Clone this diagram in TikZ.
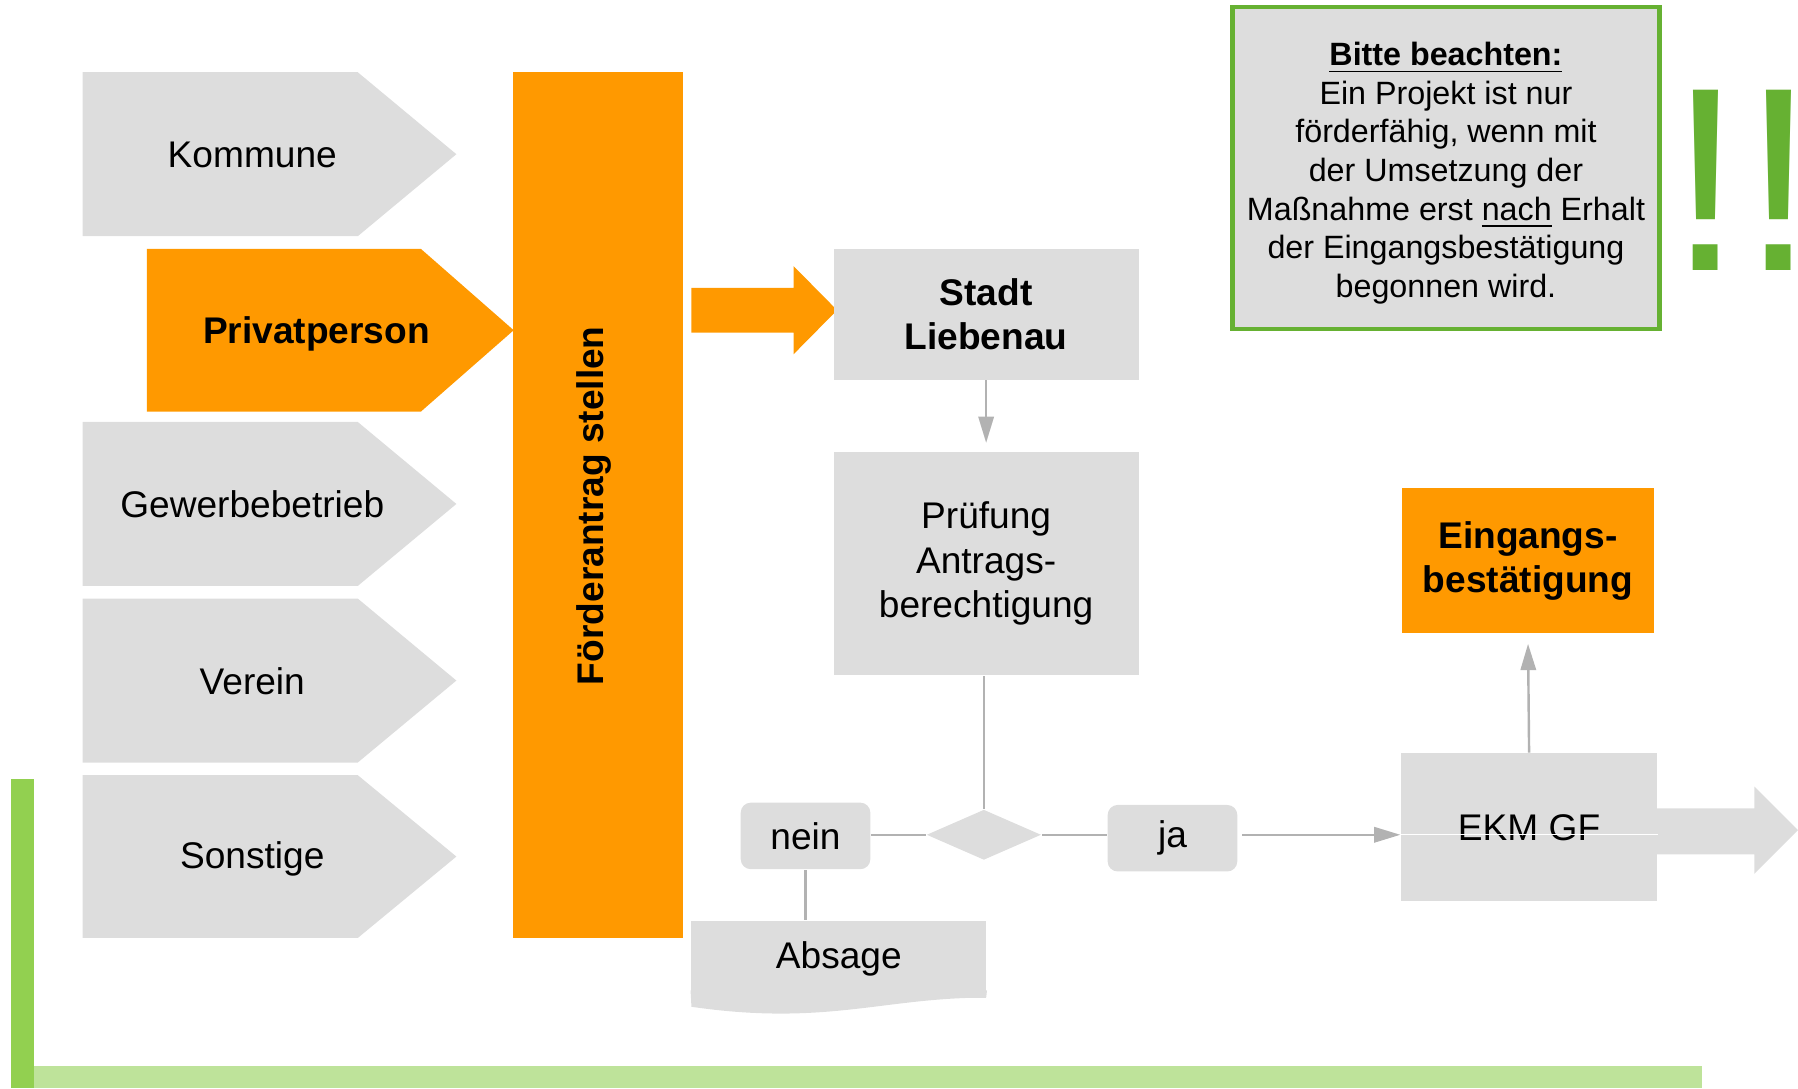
\documentclass[tikz,border=0pt]{standalone}
\usepackage{fontspec}
\setmainfont{Liberation Sans}
\usepackage{xcolor}
\usepackage{tikz}
\usetikzlibrary{arrows.meta,shapes.geometric}
\definecolor{orangex}{HTML}{FF9900}
\definecolor{greyx}{HTML}{DDDDDD}
\definecolor{linex}{HTML}{B2B2B2}
\definecolor{greenx}{HTML}{66B132}
\definecolor{greenl}{HTML}{92D050}
\definecolor{greenp}{HTML}{BEE39A}
\newcommand{\bodyfont}{\fontsize{9.2}{11}\selectfont}
\tikzset{
  txt/.style={font=\bodyfont,align=center,inner sep=0pt},
  box/.style={txt,fill=greyx},
  obox/.style={box,fill=orangex,font=\bodyfont\bfseries},
  rbox/.style={box,rounded corners=2.5pt,minimum width=1.13cm,minimum height=0.58cm},
  ln/.style={draw=linex,line width=0.6pt},
  ar/.style={ln,-{Triangle[length=6.5pt,width=3.8pt]}}
}
\begin{document}
\begin{tikzpicture}[x=0.01cm,y=-0.01cm]
\useasboundingbox (0,0) rectangle (1568,949);
% Antragsteller
\fill[greyx] (72,63)--(312,63)--(398,134.5)--(312,206)--(72,206)--cycle;
\fill[orangex] (128,217)--(367,217)--(448,288)--(367,359)--(128,359)--cycle;
\fill[greyx] (72,368)--(312,368)--(398,439.5)--(312,511)--(72,511)--cycle;
\fill[greyx] (72,522)--(312,522)--(398,593.5)--(312,665)--(72,665)--cycle;
\fill[greyx] (72,676)--(312,676)--(398,747)--(312,818)--(72,818)--cycle;
\node[txt] (kommune) at (220,135) {Kommune};
\node[txt,font=\bodyfont\bfseries] (privat) at (276,291) {Privatperson};
\node[txt] (gewerbe) at (220,440) {Gewerbebetrieb};
\node[txt] (verein) at (220,594) {Verein};
\node[txt] (sonstige) at (220,749) {Sonstige};
% Antrag
\fill[orangex] (447,63) rectangle (596,818);
\node[txt,font=\bodyfont\bfseries,rotate=90] (antrag) at (518,441) {Förderantrag stellen};
\fill[orangex] (603,251)--(692,251)--(692,232)--(730,270.5)--(692,309)--(692,290)--(603,290)--cycle;
% Ablauf
\node[box,font=\bodyfont\bfseries,minimum width=2.66cm,minimum height=1.14cm] (stadt) at (860,274) {Stadt\\ Liebenau};
\node[box,minimum width=2.66cm,minimum height=1.95cm] (pruef) at (860,491.5) {Prüfung\\ Antrags-\\ berechtigung};
\node[diamond,fill=greyx,inner sep=0pt,minimum width=1cm,minimum height=0.44cm] (raute) at (858,728) {};
\node[rbox] (nein) at (702.5,729) {nein};
\node[rbox] (ja) at (1022.5,731) {ja};
\node[box,minimum width=2.57cm,minimum height=0.67cm] (absage) at (731.5,836.5) {Absage};
\fill[greyx] ([yshift=2pt]absage.south west) -- ([yshift=2pt]absage.south east) -- (860,870) .. controls (770,870) and (720,895) .. (603,878) -- cycle;
\node[box,minimum width=2.23cm,minimum height=1.29cm] (ekm) at (1333.5,721.5) {EKM GF};
\node[obox,minimum width=2.19cm,minimum height=1.26cm] (eingang) at (1332.5,489) {Eingangs-\\ bestätigung};
\fill[greyx] (1445,705)--(1530,705)--(1530,686)--(1568,724)--(1530,762)--(1530,745)--(1445,745)--cycle;
\draw[ar,shorten >=2pt] (stadt.south) -- (pruef.north);
\draw[ln] (pruef.south -| raute.north) -- (raute.north);
\draw[ln] (raute.west) -- (raute.west -| nein.east);
\draw[ln] (raute.east) -- (raute.east -| ja.west);
\draw[ln] (nein.south) -- (nein.south |- absage.north);
\draw[ar,shorten <=1pt] (ja.east |- raute) -- (ekm.west |- raute);
\draw[white,line width=0.3pt] (ekm.west |- raute) -- (ekm.east |- raute);
\draw[ar,shorten >=2.5pt] (ekm.north) -- (eingang.south);
% Hinweis
\node[fill=greyx,draw=greenx,line width=1.1pt,minimum width=3.72cm,minimum height=2.81cm,align=center,inner sep=0pt,font=\fontsize{8}{9.6}\selectfont] (hinweis) at (1261,146.5)
  {\rule{0pt}{8.4pt}\underline{\textbf{Bitte beachten:}}\\ Ein Projekt ist nur\\ förderfähig, wenn mit\\ der Umsetzung der\\ Maßnahme erst \underline{nach} Erhalt\\ der Eingangsbestätigung\\ begonnen wird.};
\node[anchor=base west,inner sep=0pt,text=greenx,font=\fontsize{65}{65}\selectfont] (ausruf) at (1455,236) {!!};
% Rand
\fill[greenl] (10,679) rectangle (30,949);
\fill[greenp] (30,930) rectangle (1484,949);
\end{tikzpicture}
\end{document}
